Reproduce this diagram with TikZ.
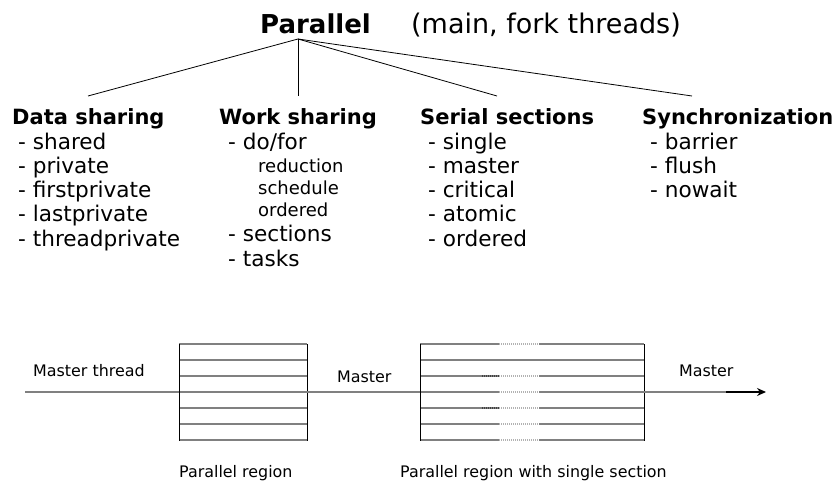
\documentclass[tikz,border=0pt]{standalone}
\usepackage{fontspec}
\setmainfont{DejaVu Sans}
\usetikzlibrary{arrows.meta}
\begin{document}
\begin{tikzpicture}[x=1pt,y=-1pt,
  titleb/.style={anchor=base west, inner sep=0pt, font=\fontsize{26}{30}\selectfont\bfseries},
  titler/.style={anchor=base west, inner sep=0pt, font=\fontsize{27}{30}\selectfont},
  head/.style={anchor=base west, inner sep=0pt, font=\fontsize{21}{24}\selectfont\bfseries},
  item/.style={anchor=base west, inner sep=0pt, font=\fontsize{21.6}{24}\selectfont},
  sub/.style={anchor=base west, inner sep=0pt, font=\fontsize{18}{20}\selectfont},
  lbl/.style={anchor=base west, inner sep=0pt, font=\fontsize{15.9}{18}\selectfont},
  tree/.style={draw=black, line width=0.8pt},
  row/.style={draw=black!50, line width=1.4pt},
  edge/.style={draw=black, line width=1pt},
  lightdot/.style={draw=black!30, line width=1.4pt, dash pattern=on 1pt off 1pt},
  darkdot/.style={draw=black!75, line width=1.4pt, dash pattern=on 1pt off 1pt}]
\useasboundingbox (0,0) rectangle (837,486);

% title
\node[titleb] (par) at (260,34) {Parallel};
\node[titler] (sub) at (411,34) {(main, fork threads)};

% tree
\coordinate (root) at (298,39);
\coordinate (e1) at (88,96);
\coordinate (e2) at (298,96);
\coordinate (e3) at (497,96);
\coordinate (e4) at (692,96);
\draw[tree] (root) -- (e1);
\draw[tree] (root) -- (e2);
\draw[tree] (root) -- (e3);
\draw[tree] (root) -- (e4);

% Data sharing
\node[head] (h1) at (12,125) {Data sharing};
\node[item] (d1) at (18,150) {- shared};
\node[item] (d2) at (18,174) {- private};
\node[item] (d3) at (18,198) {- firstprivate};
\node[item] (d4) at (18,222) {- lastprivate};
\node[item] (d5) at (18,247) {- threadprivate};

% Work sharing
\node[head] (h2) at (219,125) {Work sharing};
\node[item] (w1) at (228,150) {- do/for};
\node[sub] (w2) at (258,173) {reduction};
\node[sub] (w3) at (258,195) {schedule};
\node[sub] (w4) at (258,217) {ordered};
\node[item] (w5) at (228,241) {- sections};
\node[item] (w6) at (228,266) {- tasks};

% Serial sections
\node[head] (h3) at (420,125) {Serial sections};
\node[item] (s1) at (428,150) {- single};
\node[item] (s2) at (428,174) {- master};
\node[item] (s3) at (428,198) {- critical};
\node[item] (s4) at (428,222) {- atomic};
\node[item] (s5) at (428,247) {- ordered};

% Synchronization
\node[head] (h4) at (642,125) {Synchronization};
\node[item] (y1) at (650,150) {- barrier};
\node[item] (y2) at (650,174) {- flush};
\node[item] (y3) at (650,198) {- nowait};

% parallel region box 1
\foreach \yy in {344,360,376,392,408,424,440}
  \draw[row] (179,\yy) -- (307,\yy);
\draw[edge] (179,344) -- (179,440.7);
\draw[edge] (307,344) -- (307,440.7);

% parallel region box 2
\foreach \yy in {344,376,392,408,424,440} {
  \draw[row] (420,\yy) -- (499,\yy);
  \draw[lightdot] (499,\yy) -- (539,\yy);
  \draw[row] (539,\yy) -- (644,\yy);
}
\draw[row] (420,360) -- (644,360);
\draw[darkdot] (482,376) -- (499,376);
\draw[darkdot] (482,408) -- (499,408);
\draw[edge] (420,344) -- (420,440.7);
\draw[edge] (644,344) -- (644,440.7);

% master thread line
\coordinate (mstart) at (25,392);
\coordinate (b1l) at (179,392);
\coordinate (b1r) at (307,392);
\coordinate (b2l) at (420,392);
\coordinate (b2r) at (644,392);
\coordinate (mmid) at (726,392);
\coordinate (mtip) at (766,392);
\draw[row] (mstart) -- (b1l);
\draw[row] (b1r) -- (b2l);
\draw[row] (b2r) -- (mmid);
\draw[draw=black, line width=1.6pt, -{Stealth[length=9pt,width=8pt]}] (mmid) -- (mtip);

% labels
\node[lbl] (l1) at (33,376) {Master thread};
\node[lbl] (l2) at (337,382) {Master};
\node[lbl] (l3) at (679,376) {Master};
\node[lbl] (l4) at (179,477) {Parallel region};
\node[lbl] (l5) at (400,477) {Parallel region with single section};
\end{tikzpicture}
\end{document}
